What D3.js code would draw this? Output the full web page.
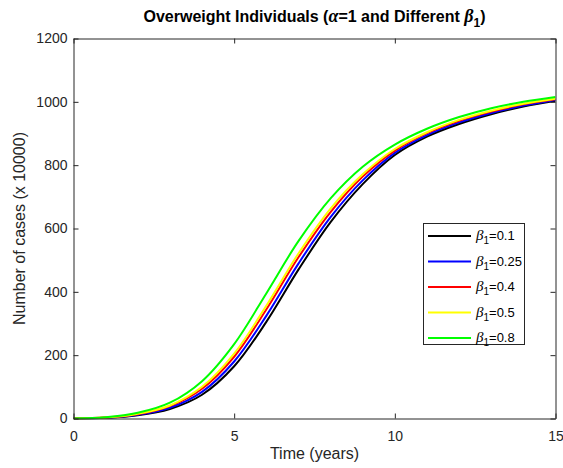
<!DOCTYPE html>
<html>
<head>
<meta charset="utf-8">
<script src="https://cdn.jsdelivr.net/npm/d3@7/dist/d3.min.js"></script>
<style>
body{margin:0;background:#fff;}
text{font-family:"Liberation Sans",Arial,Helvetica,sans-serif;}
</style>
</head>
<body>
<div class="content"></div>
<script>
const SVGWIDTH = 563;
const SVGHEIGHT = 468;

// data (number of cases x 10000, yearly)
const years = [0,1,2,3,4,5,6,7,8,9,10,11,12,13,14,15];
const beta01  = [0,2,10,30,75,165,305,470,620,740,832,890,930,961,985,1003];
const beta025 = [0,2,12,34,84,180,324,489,636,752,839,895,935,965,988,1006];
const beta04  = [0,3,13,39,94,195,344,509,652,764,846,901,940,969,992,1008];
const beta05  = [0,3,15,41,100,205,356,521,663,771,851,904,943,972,994,1010];
const beta08  = [0,4,18,50,118,235,395,560,695,795,865,915,952,980,1000,1015];
const series_labels = ["0.1","0.25","0.4","0.5","0.8"];
const series_colors = ["#000000","#0000ff","#ff0000","#ffff00","#00ff00"];
const xticks = [0,5,10,15];
const yticks = [0,200,400,600,800,1000,1200];

const all_series = [beta01,beta025,beta04,beta05,beta08];

const margin = {left:73.5, top:38.5, right:7.5, bottom:49.5};
const W = SVGWIDTH - margin.left - margin.right;
const H = SVGHEIGHT - margin.top - margin.bottom;
const axisColor = "#262626";

let svg = d3.select(".content").append("svg").attr("width",SVGWIDTH).attr("height",SVGHEIGHT);
let g = svg.append("g").attr("transform","translate("+margin.left+","+margin.top+")");

let xscale = d3.scaleLinear().domain([0,15]).range([0,W]);
let yscale = d3.scaleLinear().domain([0,1200]).range([H,0]);

// curves
let line = d3.line().x((d,i)=>xscale(years[i])).y(d=>yscale(d)).curve(d3.curveCatmullRom.alpha(0.5));
svg.append("clipPath").attr("id","clip").append("rect").attr("width",W).attr("height",H+2).attr("y",-1);
g.append("g").attr("clip-path","url(#clip)").selectAll("path")
    .data(all_series)
    .join("path")
    .attr("d",d=>line(d))
    .attr("fill","none")
    .attr("stroke",(d,i)=>series_colors[i])
    .attr("stroke-width",2);

// axes (box with inward ticks)
let xaxis = d3.axisBottom(xscale).tickValues(xticks).tickSizeInner(-5).tickSizeOuter(0).tickPadding(13).tickFormat(d3.format("d"));
let yaxis = d3.axisLeft(yscale).tickValues(yticks).tickSizeInner(-5).tickSizeOuter(0).tickPadding(6).tickFormat(d3.format("d"));
let xtop = d3.axisTop(xscale).tickValues(xticks).tickSizeInner(-5).tickSizeOuter(0).tickFormat("");
let yright = d3.axisRight(yscale).tickValues(yticks).tickSizeInner(-5).tickSizeOuter(0).tickFormat("");

g.append("g").attr("transform","translate(0,"+H+")").call(xaxis);
g.append("g").call(yaxis);
g.append("g").call(xtop);
g.append("g").attr("transform","translate("+W+",0)").call(yright);
g.selectAll(".domain").attr("stroke",axisColor);
g.selectAll(".tick line").attr("stroke",axisColor);
g.selectAll(".tick text").attr("fill",axisColor).style("font-size","14px");

// axis labels
svg.append("text").attr("x",margin.left+W/2).attr("y",459)
    .attr("text-anchor","middle").attr("fill",axisColor).style("font-size","16px").text("Time (years)");
svg.append("text").attr("transform","translate(25,"+(margin.top+H/2)+") rotate(-90)")
    .attr("text-anchor","middle").attr("fill",axisColor).style("font-size","16px").text("Number of cases (x 10000)");

// title
let title = svg.append("text").attr("x",margin.left+W/2).attr("y",22)
    .attr("text-anchor","middle").style("font-size","16px").style("font-weight","bold").attr("fill","#000");
title.append("tspan").text("Overweight Individuals (");
title.append("tspan").text("α").style("font-family","'Liberation Serif',serif").style("font-style","italic").style("font-size","18px");
title.append("tspan").text("=1 and Different ");
title.append("tspan").text("β").style("font-family","'Liberation Serif',serif").style("font-style","italic").style("font-size","18px");
title.append("tspan").text("1").attr("dy",5).style("font-size","12px");
title.append("tspan").text(")").attr("dy",-5);

// legend
let legend = svg.append("g").attr("id","legend");
legend.append("rect").attr("x",423.5).attr("y",223.5).attr("width",101).attr("height",121)
    .attr("fill","#fff").attr("stroke",axisColor).attr("stroke-width",1);
let rows = legend.selectAll(".row").data(series_labels).join("g").classed("row",true)
    .attr("transform",(d,i)=>"translate(0,"+(236+i*25.5)+")");
rows.append("line").attr("x1",428).attr("x2",471).attr("y1",0).attr("y2",0)
    .attr("stroke",(d,i)=>series_colors[i]).attr("stroke-width",2);
let lt = rows.append("text").attr("x",476).attr("y",4).style("font-size","13px").attr("fill","#000");
lt.append("tspan").text("β").style("font-family","'Liberation Serif',serif").style("font-style","italic").style("font-size","15px");
lt.append("tspan").text("1").attr("dy",4).style("font-size","10px");
lt.append("tspan").text(d=>"="+d).attr("dy",-4);
</script>
</body>
</html>
